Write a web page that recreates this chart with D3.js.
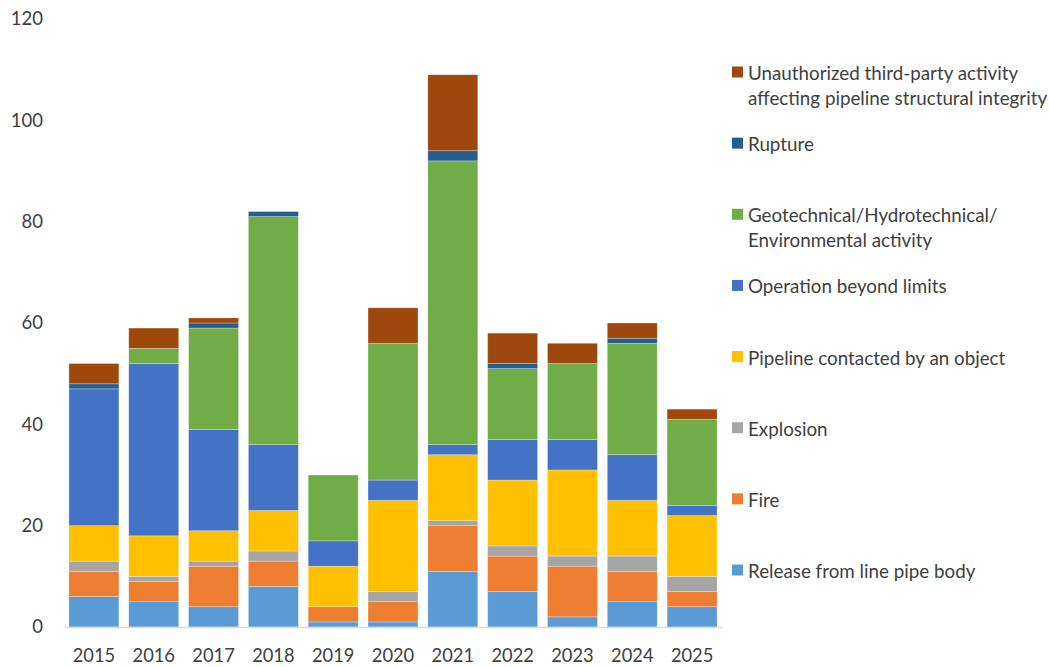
<!DOCTYPE html>
<html>
<head>
<meta charset="utf-8">
<script src="https://cdn.jsdelivr.net/npm/d3@7"></script>
<style>
  html, body { margin: 0; padding: 0; background: #fff; }
  svg { display: block; }
  text { font-family: Lato, "Open Sans", sans-serif; fill: #404040; }
</style>
</head>
<body>
<svg id="chart" width="1049" height="667"></svg>
<script>
// ---- data ----
const years = ["2015","2016","2017","2018","2019","2020","2021","2022","2023","2024","2025"];
const seriesNames = [
  "Release from line pipe body",
  "Fire",
  "Explosion",
  "Pipeline contacted by an object",
  "Operation beyond limits",
  "Geotechnical/Hydrotechnical/ Environmental activity",
  "Rupture",
  "Unauthorized third-party activity affecting pipeline structural integrity"
];
const legendLines = [
  ["Release from line pipe body"],
  ["Fire"],
  ["Explosion"],
  ["Pipeline contacted by an object"],
  ["Operation beyond limits"],
  ["Geotechnical/Hydrotechnical/", "Environmental activity"],
  ["Rupture"],
  ["Unauthorized third-party activity", "affecting pipeline structural integrity"]
];
const releaseFromPipe = [6, 5, 4, 8, 1, 1, 11, 7, 2, 5, 4];
const fire            = [5, 4, 8, 5, 3, 4, 9, 7, 10, 6, 3];
const explosion       = [2, 1, 1, 2, 0, 2, 1, 2, 2, 3, 3];
const pipelineContact = [7, 8, 6, 8, 8, 18, 13, 13, 17, 11, 12];
const operationBeyond = [27, 34, 20, 13, 5, 4, 2, 8, 6, 9, 2];
const geotechnical    = [0, 3, 20, 45, 13, 27, 56, 14, 15, 22, 17];
const rupture         = [1, 0, 1, 1, 0, 0, 2, 1, 0, 1, 0];
const unauthorized    = [4, 4, 1, 0, 0, 7, 15, 6, 4, 3, 2];
const yTicks = [0, 20, 40, 60, 80, 100, 120];
const colors = ["#5B9BD5", "#ED7D31", "#A5A5A5", "#FFC000", "#4472C4", "#70AD47", "#255E91", "#9E480E"];

const seriesValues = [releaseFromPipe, fire, explosion, pipelineContact, operationBeyond, geotechnical, rupture, unauthorized];

// ---- build table ----
const table = years.map((y, i) => {
  const row = { year: y };
  seriesNames.forEach((s, k) => row[s] = seriesValues[k][i]);
  return row;
});

const svg = d3.select("#chart");

const x = d3.scaleBand().domain(years).range([64, 722]).paddingInner(0.165).paddingOuter(0.0825);
const y = d3.scaleLinear().domain([0, 120]).range([627, 19]);
const color = d3.scaleOrdinal().domain(seriesNames).range(colors);

const stack = d3.stack().keys(seriesNames);
const stacked = stack(table);

// bars
const layers = svg.append("g").selectAll("g")
  .data(stacked).join("g")
  .attr("fill", d => color(d.key));

layers.selectAll("rect")
  .data(d => d.filter(p => p[1] - p[0] > 0))
  .join("rect")
  .attr("x", d => x(d.data.year))
  .attr("width", x.bandwidth())
  .attr("y", d => y(d[1]))
  .attr("height", d => y(d[0]) - y(d[1]))
  .attr("stroke", "#ffffff")
  .attr("stroke-opacity", 0.35)
  .attr("stroke-width", 0.75);

// x axis
const xAxis = d3.axisBottom(x).tickSize(0).tickPadding(22);
const gx = svg.append("g").attr("transform", "translate(0,627)").call(xAxis);
gx.select(".domain").attr("stroke", "#D9D9D9").attr("stroke-width", 1.5);
gx.selectAll("text").attr("font-size", 18.3).attr("font-family", "Lato, 'Open Sans', sans-serif").attr("fill", "#404040");

// y axis (labels only)
const yAxis = d3.axisLeft(y).tickValues(yTicks).tickSize(0).tickPadding(0);
const gy = svg.append("g").attr("transform", "translate(43,0)").call(yAxis);
gy.select(".domain").remove();
gy.selectAll("text").attr("font-size", 18.5).attr("font-family", "Lato, 'Open Sans', sans-serif").attr("fill", "#404040");

// legend (top to bottom: reverse of stack order)
const legendOrder = seriesNames.map((s, i) => i).reverse();
const ly = d3.scalePoint().domain(legendOrder).range([72, 570]);
const lg = svg.append("g");
const items = lg.selectAll("g").data(legendOrder).join("g")
  .attr("transform", i => `translate(732,${ly(i)})`);
items.append("rect")
  .attr("x", 0).attr("y", -5.5).attr("width", 11).attr("height", 11)
  .attr("fill", i => colors[i]);
items.append("text")
  .attr("x", 16)
  .attr("font-size", 18.8)
  .attr("dominant-baseline", "central")
  .selectAll("tspan")
  .data(i => legendLines[i])
  .join("tspan")
  .attr("x", 16)
  .attr("dy", (d, j) => j === 0 ? 0 : 24.5)
  .text(d => d);
</script>
</body>
</html>
